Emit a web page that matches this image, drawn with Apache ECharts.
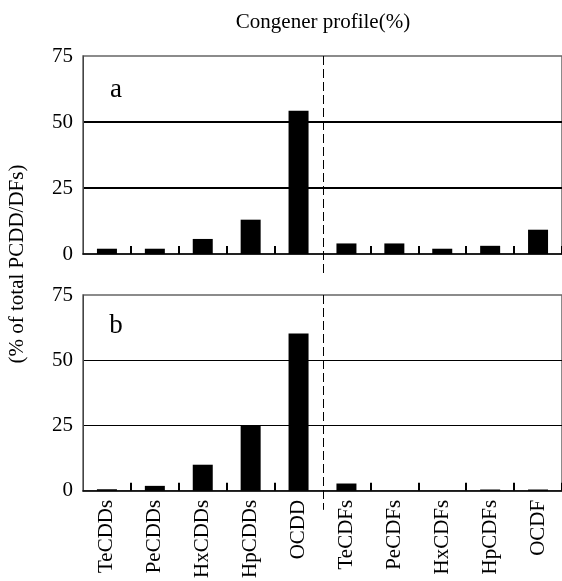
<!DOCTYPE html>
<html>
<head>
<meta charset="utf-8">
<script src="https://cdn.jsdelivr.net/npm/echarts@6/dist/echarts.min.js"></script>
<style>
html,body{margin:0;padding:0;background:#fff;}
#chart{width:562px;height:581px;}
</style>
</head>
<body>
<div id="chart"></div>
<script>
var categories = ['TeCDDs','PeCDDs','HxCDDs','HpCDDs','OCDD','TeCDFs','PeCDFs','HxCDFs','HpCDFs','OCDF'];
var seriesA = [2, 2, 5.7, 13, 54.3, 4, 4, 2, 3.1, 9.2];
var seriesB = [0.6, 1.9, 10, 24.9, 60.3, 2.8, 0, 0, 0.5, 0.5];
var yTicks = [0, 25, 50, 75];

var FONT = 'Liberation Serif';
var chart = echarts.init(document.getElementById('chart'), null, {renderer: 'canvas'});

function yAxisCfg(gridIndex, gw) {
  return {
    type: 'value', gridIndex: gridIndex,
    min: yTicks[0], max: yTicks[yTicks.length - 1], interval: yTicks[1] - yTicks[0],
    axisLine: {show: true, lineStyle: {color: '#444', width: 1}},
    axisTick: {show: false},
    axisLabel: {color: '#000', fontFamily: FONT, fontSize: 21, margin: 10},
    splitLine: {show: true, showMinLine: false, showMaxLine: false, lineStyle: {color: '#000', width: gw}}
  };
}
function xAxisCfg(gridIndex, showLabels) {
  return {
    type: 'category', gridIndex: gridIndex, data: categories,
    axisLine: {show: true, lineStyle: {color: '#000', width: 1.5}},
    axisTick: {show: true, inside: true, length: 8, lineStyle: {color: '#000', width: 2},
      interval: function (idx) { return idx !== 0 && idx !== 5; }},
    axisLabel: {show: showLabels, rotate: 90, interval: 0, color: '#000', fontFamily: FONT, fontSize: 21, margin: 9},
    splitLine: {show: false}
  };
}

var option = {
  animation: false,
  backgroundColor: '#fff',
  grid: [
    {left: 83, right: -7, top: 56, height: 198, show: true, borderColor: '#666', borderWidth: 1.5, backgroundColor: 'transparent'},
    {left: 83, right: -7, top: 295, height: 198, show: true, borderColor: '#666', borderWidth: 1.5, backgroundColor: 'transparent'}
  ],
  xAxis: [xAxisCfg(0, false), xAxisCfg(1, true)],
  yAxis: [yAxisCfg(0, 2), yAxisCfg(1, 1)],
  series: [
    {type: 'bar', xAxisIndex: 0, yAxisIndex: 0, data: seriesA, barWidth: 20, itemStyle: {color: '#000'}},
    {type: 'bar', xAxisIndex: 1, yAxisIndex: 1, data: seriesB, barWidth: 20, itemStyle: {color: '#000'}}
  ]
};
chart.setOption(option);

// dashed separator between dioxins and furans, positioned from the axis scale
var p4 = chart.convertToPixel({xAxisIndex: 0}, categories[4]);
var p5 = chart.convertToPixel({xAxisIndex: 0}, categories[5]);
var sepX = Math.round((p4 + p5) / 2) + 0.5;
var top1 = chart.convertToPixel({yAxisIndex: 0}, 75), zero1 = chart.convertToPixel({yAxisIndex: 0}, 0);
var top2 = chart.convertToPixel({yAxisIndex: 1}, 75), zero2 = chart.convertToPixel({yAxisIndex: 1}, 0);

chart.setOption({
  graphic: [
    {type: 'line', shape: {x1: sepX, y1: top1, x2: sepX, y2: zero1 + 19}, style: {stroke: '#000', lineWidth: 1, lineDash: [9, 4]}, z: 10},
    {type: 'line', shape: {x1: sepX, y1: top2, x2: sepX, y2: zero2 + 19}, style: {stroke: '#000', lineWidth: 1, lineDash: [9, 4]}, z: 10},
    {type: 'text', x: 323, y: 22, style: {text: 'Congener profile(%)', font: '21px "Liberation Serif"', fill: '#000', textAlign: 'center', textVerticalAlign: 'middle'}},
    {type: 'text', x: 116, y: 90, style: {text: 'a', font: '27px "Liberation Serif"', fill: '#000', textAlign: 'center', textVerticalAlign: 'middle'}},
    {type: 'text', x: 116, y: 326, style: {text: 'b', font: '27px "Liberation Serif"', fill: '#000', textAlign: 'center', textVerticalAlign: 'middle'}},
    {type: 'text', x: 17, y: 264, rotation: Math.PI / 2, style: {text: '(% of total PCDD/DFs)', font: '21px "Liberation Serif"', fill: '#000', textAlign: 'center', textVerticalAlign: 'middle'}}
  ]
});
</script>
</body>
</html>
